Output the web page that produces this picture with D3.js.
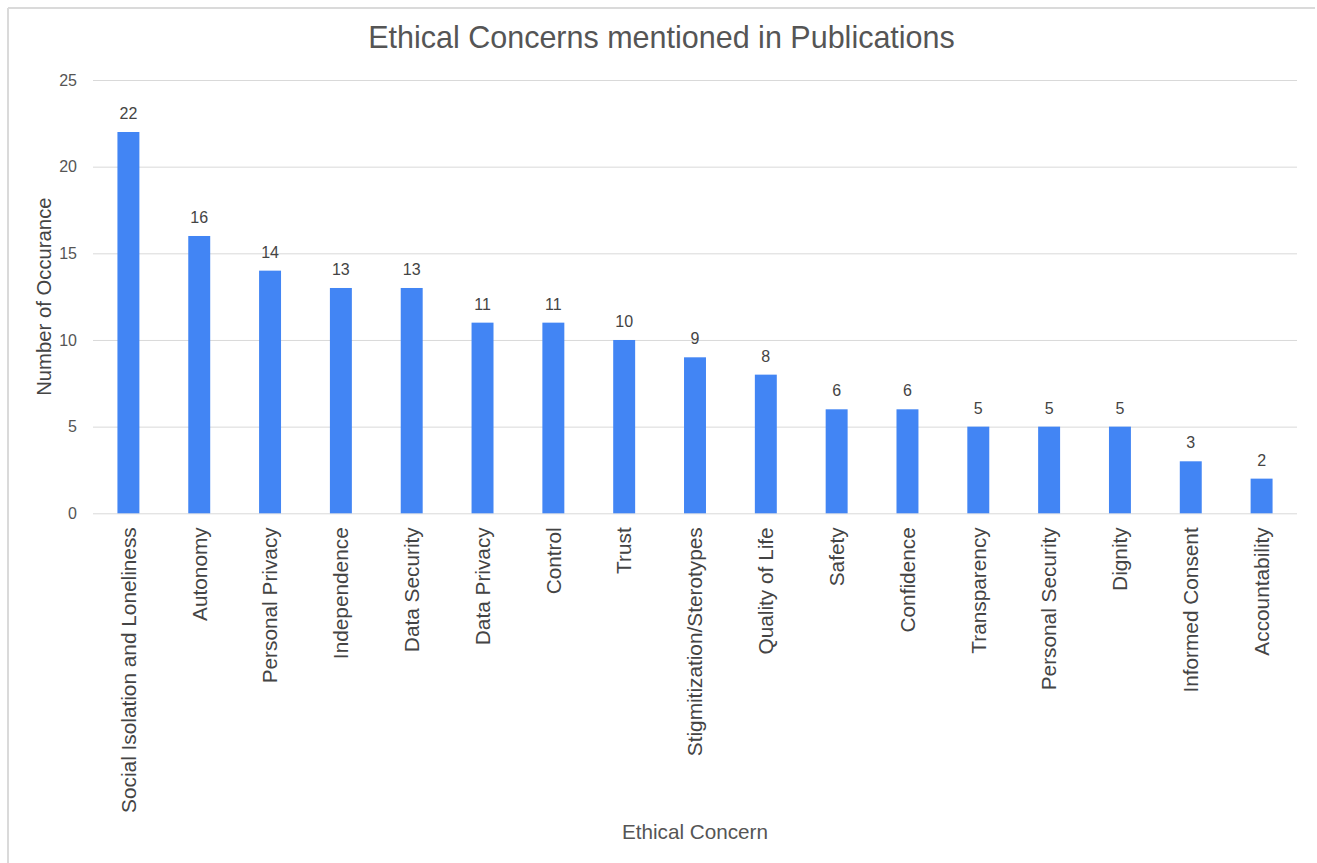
<!DOCTYPE html>
<html>
<head>
<meta charset="utf-8">
<script src="https://cdn.jsdelivr.net/npm/d3@7"></script>
<style>
  html, body { margin: 0; padding: 0; background: #fff; }
  svg { display: block; font-family: Arial, "Liberation Sans", sans-serif; }
</style>
</head>
<body>
<svg id="chart" width="1317" height="863"></svg>
<script>
const categories = ["Social Isolation and Loneliness", "Autonomy", "Personal Privacy", "Independence", "Data Security", "Data Privacy", "Control", "Trust", "Stigmitization/Sterotypes", "Quality of Life", "Safety", "Confidence", "Transparency", "Personal Security", "Dignity", "Informed Consent", "Accountability"];
const values = [22, 16, 14, 13, 13, 11, 11, 10, 9, 8, 6, 6, 5, 5, 5, 3, 2];
const yTicks = [0, 5, 10, 15, 20, 25];
const title = "Ethical Concerns mentioned in Publications";
const xTitle = "Ethical Concern";
const yTitle = "Number of Occurance";

const svg = d3.select("#chart");
const W = 1317, H = 863;
const plot = { left: 93, right: 1297, top: 80, bottom: 513.3 };

// border (top and left visible; right/bottom fall outside the frame)
svg.append("line").attr("x1", 8).attr("x2", 1315).attr("y1", 8).attr("y2", 8)
  .attr("stroke", "#dadada").attr("stroke-width", 2);
svg.append("line").attr("x1", 8).attr("x2", 8).attr("y1", 8).attr("y2", H)
  .attr("stroke", "#dadada").attr("stroke-width", 2);

const x = d3.scaleBand().domain(categories).range([plot.left, plot.right])
  .paddingInner(0.69).paddingOuter(0.345);
const y = d3.scaleLinear().domain([0, 25]).range([plot.bottom, plot.top]);

// gridlines
const yAxis = d3.axisLeft(y).tickValues(yTicks).tickSize(-(plot.right - plot.left)).tickPadding(16);
const gy = svg.append("g").attr("transform", `translate(${plot.left},0)`).call(yAxis);
gy.select(".domain").remove();
gy.selectAll(".tick line").attr("stroke", "#d9d9d9").attr("stroke-width", 1);
gy.selectAll(".tick text").attr("fill", "#555").attr("font-size", 16).attr("font-family", "Arial, 'Liberation Sans', sans-serif");

// bars
svg.append("g").selectAll("rect").data(values).join("rect")
  .attr("x", (d, i) => x(categories[i]))
  .attr("y", d => y(d))
  .attr("width", x.bandwidth())
  .attr("height", d => y(0) - y(d))
  .attr("fill", "#4285f4");

// value labels
svg.append("g").selectAll("text").data(values).join("text")
  .attr("x", (d, i) => x(categories[i]) + x.bandwidth() / 2)
  .attr("y", d => y(d) - 13)
  .attr("text-anchor", "middle")
  .attr("font-size", 16)
  .attr("fill", "#444")
  .text(d => d);

// x axis labels
const xAxis = d3.axisBottom(x).tickSize(0).tickPadding(0);
const gx = svg.append("g").attr("transform", `translate(0,${plot.bottom})`).call(xAxis);
gx.select(".domain").remove();
gx.selectAll(".tick text")
  .attr("transform", "rotate(-90)")
  .attr("text-anchor", "end")
  .attr("x", -14)
  .attr("y", 0)
  .attr("dy", "0.35em")
  .attr("dx", 0)
  .attr("font-size", 20.8)
  .attr("font-family", "Arial, 'Liberation Sans', sans-serif")
  .attr("fill", "#444");

// title
svg.append("text").attr("x", 661.5).attr("y", 48).attr("text-anchor", "middle")
  .attr("font-size", 30.5).attr("fill", "#555").text(title);

// x title
svg.append("text").attr("x", (plot.left + plot.right) / 2).attr("y", 839).attr("text-anchor", "middle")
  .attr("font-size", 20.7).attr("fill", "#555").text(xTitle);

// y title
svg.append("text").attr("transform", `translate(51,${(plot.top + plot.bottom) / 2}) rotate(-90)`)
  .attr("text-anchor", "middle").attr("font-size", 20.3).attr("fill", "#444").text(yTitle);
</script>
</body>
</html>
